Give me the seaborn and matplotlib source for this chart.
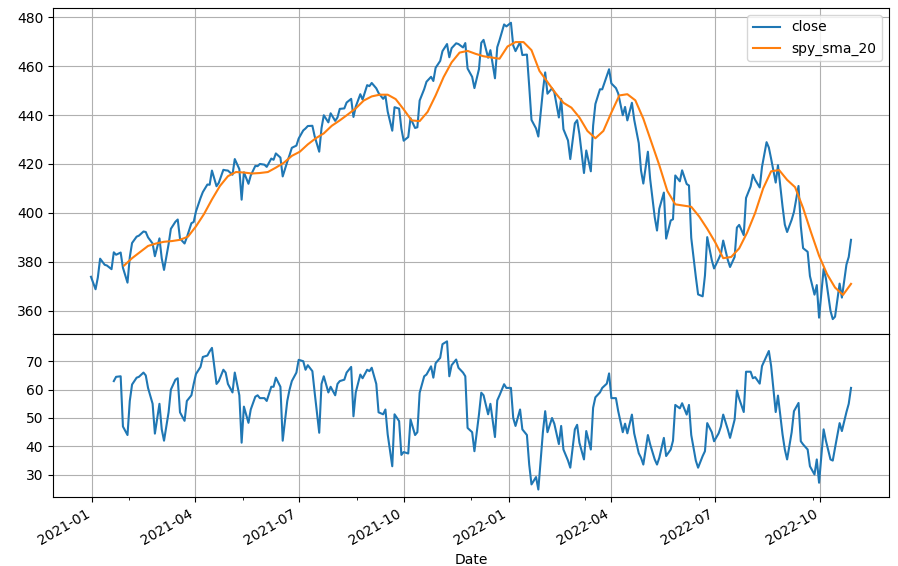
import pandas as pd
import matplotlib
matplotlib.use('Agg')
import matplotlib.pyplot as plt
import matplotlib.dates as mdates
from matplotlib.ticker import MultipleLocator
import seaborn as sns
from datetime import datetime

# SPY close, sampled every 2nd business day from 2020-12-31
close = [373.9, 368.8, 373.6, 381.3, 378.8, 378.5, 377.0, 383.9, 382.9, 383.8, 377.6,
         371.5, 381.9, 387.7, 390.3, 390.7, 392.4, 392.2, 390.0, 387.5, 382.3,
         389.6, 381.4, 376.7, 387.2, 393.5, 396.4, 397.3, 389.5, 387.5, 390.0, 395.8, 396.3,
         400.6, 406.1, 408.5, 411.6, 411.5, 417.3, 410.9, 412.3, 417.6, 417.4, 417.3,
         415.6, 422.0, 417.9, 405.4, 416.6, 411.9, 415.3, 419.2, 419.1, 420.0,
         419.7, 418.8, 422.2, 421.7, 424.3, 422.6, 414.9, 420.9, 423.6, 426.6, 427.5,
         430.4, 433.7, 434.5, 435.5, 435.6, 431.3, 425.0, 434.6, 439.9, 437.0, 440.7,
         437.6, 439.0, 442.5, 442.7, 445.1, 446.6, 439.2, 443.4, 448.5, 446.3, 452.2,
         451.8, 453.1, 450.9, 449.0, 446.6, 447.9, 441.4, 433.6, 443.2, 442.6, 434.4,
         429.5, 431.0, 438.7, 434.7, 435.0, 445.9, 450.6, 453.6, 455.6, 453.9, 459.3,
         462.1, 466.1, 469.0, 463.6, 467.3, 469.3, 469.0, 467.6, 469.4, 459.0, 455.6,
         451.0, 458.8, 469.5, 470.7, 463.4, 466.5, 455.0, 467.7, 470.6, 477.0, 476.2,
         477.7, 468.4, 466.1, 469.8, 464.5, 464.7, 451.8, 438.0, 434.5, 431.2, 449.9,
         457.4, 448.7, 450.9, 449.3, 439.0, 446.6, 434.2, 429.6, 422.0, 436.6,
         437.9, 432.2, 416.3, 425.5, 417.0, 435.6, 444.5, 450.5, 450.5, 455.9, 458.7,
         452.9, 451.0, 448.8, 439.9, 443.3, 437.8, 445.0, 438.1, 428.5, 417.3, 412.0,
         425.0, 413.8, 398.2, 392.8, 401.7, 408.3, 389.5, 396.9, 397.4, 415.3, 412.9,
         417.4, 411.8, 411.2, 389.8, 373.9, 366.7, 365.9, 374.4, 390.1, 380.7, 377.3,
         381.2, 383.3, 388.7, 380.8, 377.9, 382.0, 394.0, 395.1, 390.9, 406.1,
         410.8, 415.6, 413.5, 410.4, 418.8, 428.9, 426.7, 422.1, 412.4, 419.5, 402.6, 395.2,
         392.2, 397.2, 400.4, 411.0, 394.6, 385.6, 384.1, 374.2, 366.6, 370.5, 357.2,
         377.1, 373.2, 360.0, 356.6, 357.6, 371.1, 365.4, 378.9, 382.0, 389.0]

# 20 day moving average, weekly (Fridays) from 2021-01-29
spy_sma_20 = [378.5, 381.5, 384.0, 386.5, 387.5, 388.2, 388.5, 389.0, 390.3,
              394.5, 399.5, 405.5, 411.0, 415.0, 416.7, 416.5, 416.1, 416.3,
              416.7, 418.5, 420.5, 423.3, 425.0, 428.0, 430.5, 432.5, 435.6,
              437.8, 440.2, 442.7, 445.9, 447.6, 448.3, 448.3, 446.5, 442.3,
              437.8, 437.5, 441.3, 448.0, 455.5, 461.5, 465.5, 466.2, 465.0,
              464.0, 463.5, 463.0, 468.0,
              469.8, 469.8, 466.5, 458.0, 453.5, 449.0, 445.0, 443.0, 439.0,
              433.5, 430.5, 433.5, 441.0, 448.0, 448.5, 446.0, 438.5, 429.0,
              419.5, 409.0, 403.5, 403.0, 402.5, 398.5, 393.5, 388.0, 381.5,
              382.0, 385.5, 392.0, 400.0, 410.0, 417.0, 417.5, 413.5, 410.5,
              402.0, 392.0, 382.5, 375.0, 369.5, 366.5, 371.0]

# RSI, every 2nd business day from 2021-01-20
rsi = [63.0, 64.5, 64.7, 47.0,
       44.0, 56.0, 61.8, 64.2, 64.5, 66.0, 65.0, 60.6, 55.0, 44.5,
       55.0, 46.0, 42.0, 52.0, 60.0, 63.5, 64.0, 52.0, 49.0, 56.0, 58.0, 62.0,
       65.5, 68.0, 71.5, 72.0, 73.5, 74.7, 62.0, 63.0, 67.0, 66.0, 62.0,
       59.0, 66.0, 58.0, 41.3, 54.0, 48.3, 53.0, 57.5, 58.0, 57.0,
       57.0, 56.0, 61.0, 61.0, 64.2, 61.0, 42.0, 56.0, 60.0, 63.0, 66.0,
       70.5, 70.0, 67.0, 68.6, 66.5, 59.0, 44.8, 62.0, 64.7, 59.0, 61.0,
       58.0, 62.0, 63.0, 63.5, 66.0, 68.0, 50.6, 59.0, 65.3, 64.0, 67.0,
       66.5, 67.7, 62.0, 52.0, 51.3, 53.0, 44.2, 33.0, 51.3, 48.9, 37.0,
       38.0, 37.5, 49.5, 44.0, 45.0, 58.9, 64.7, 65.3, 68.2, 64.2, 69.3,
       71.2, 76.0, 77.0, 64.7, 68.6, 70.6, 67.7, 66.0, 64.7, 46.5, 45.0,
       38.3, 51.3, 58.9, 58.0, 51.3, 55.0, 43.3, 56.2, 58.0, 61.9, 60.6,
       60.6, 50.0, 47.2, 53.0, 46.0, 44.0, 33.6, 26.6, 29.2, 24.8, 45.0,
       52.4, 45.0, 50.0, 48.0, 40.8, 47.2, 38.9, 35.0, 32.5, 46.0,
       47.6, 41.3, 35.4, 45.4, 38.9, 53.6, 57.3, 59.0, 60.6, 62.1, 65.7,
       57.0, 57.0, 52.4, 45.0, 48.0, 44.6, 51.2, 44.6, 37.6, 36.0, 33.6,
       44.0, 40.7, 35.4, 33.6, 36.0, 43.0, 36.6, 38.9, 42.0, 54.6, 53.4,
       55.2, 51.2, 54.6, 44.0, 35.0, 32.5, 36.6, 38.3, 48.2, 45.0, 41.8,
       44.6, 47.0, 51.2, 46.0, 43.0, 49.4, 59.7, 56.8, 52.1, 66.3,
       66.3, 64.0, 64.4, 62.1, 68.3, 71.8, 73.6, 68.3, 52.1, 57.9, 44.2, 38.9,
       35.4, 45.0, 52.4, 55.3, 41.8, 40.7, 38.9, 33.0, 30.1, 35.4, 27.2,
       46.0, 42.0, 35.4, 35.0, 39.5, 48.2, 45.4, 52.1, 55.0, 60.6]

close_dates = pd.date_range('2020-12-31', periods=len(close), freq='2B')
sma_dates = pd.date_range('2021-01-29', periods=len(spy_sma_20), freq='W-FRI')
rsi_dates = pd.date_range('2021-01-20', periods=len(rsi), freq='2B')

fig, (ax1, ax2) = plt.subplots(2, 1, sharex=True, figsize=(8.98, 5.66), dpi=100,
                               gridspec_kw={'height_ratios': [2, 1], 'hspace': 0})

sns.lineplot(x=close_dates, y=close, ax=ax1, label='close', color='C0')
sns.lineplot(x=sma_dates, y=spy_sma_20, ax=ax1, label='spy_sma_20', color='C1')
sns.lineplot(x=rsi_dates, y=rsi, ax=ax2, color='C0')

ax1.legend(loc='upper right')
ax1.grid(True)
ax2.grid(True)
ax1.set_xlabel('')
ax2.set_xlabel('Date')
ax1.yaxis.set_major_locator(MultipleLocator(20))
ax2.yaxis.set_major_locator(MultipleLocator(10))

ax2.xaxis.set_major_locator(mdates.MonthLocator(bymonth=[1, 4, 7, 10]))
ax2.xaxis.set_major_formatter(mdates.DateFormatter('%Y-%m'))
ax2.xaxis.set_minor_locator(mdates.RRuleLocator(
    mdates.rrulewrapper(mdates.DAILY, interval=100, dtstart=datetime(2020, 12, 3))))

fig.autofmt_xdate()
fig.subplots_adjust(left=0.059, right=0.990, top=0.986, bottom=0.122)

fig.savefig('out.png', dpi=100)
